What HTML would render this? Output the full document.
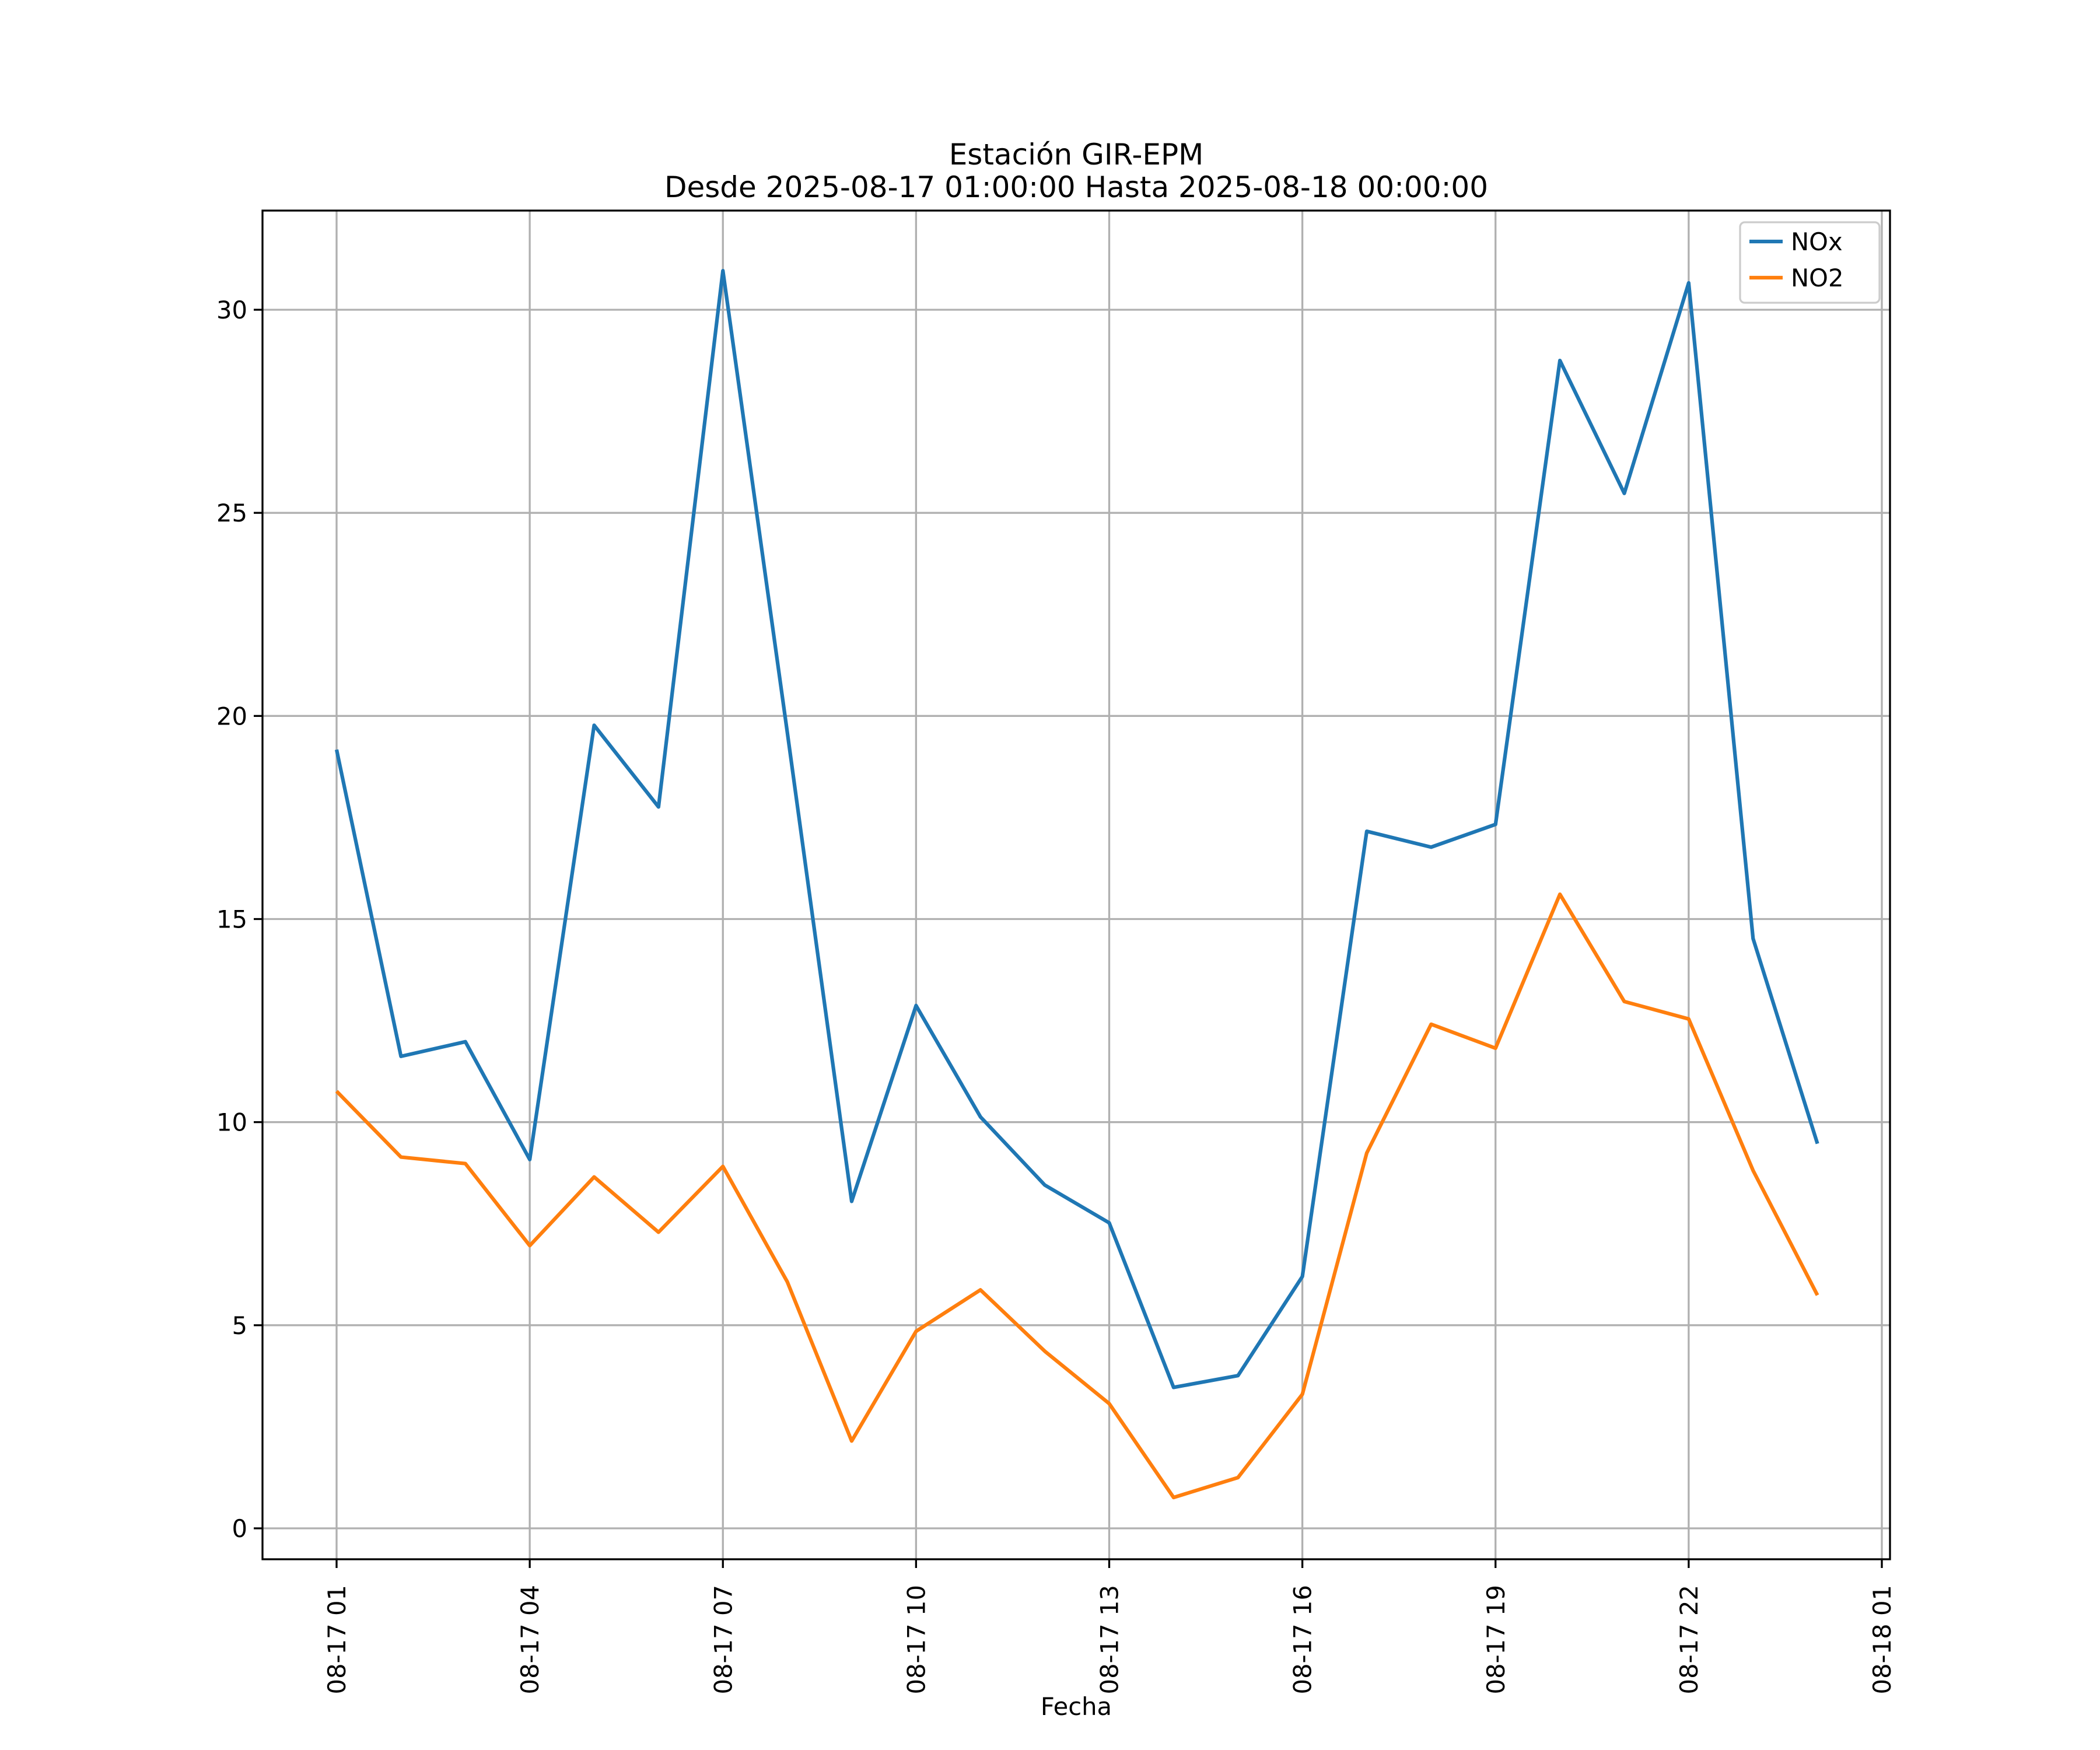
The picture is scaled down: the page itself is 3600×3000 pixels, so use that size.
<!DOCTYPE html>
<html><head><meta charset="utf-8"><style>
html,body{margin:0;padding:0;background:#fff}
svg{display:block;font-family:"DejaVu Sans","Liberation Sans",sans-serif}
</style></head><body>
<svg id="chart" width="3600" height="3000" viewBox="0 0 3600 3000" xmlns="http://www.w3.org/2000/svg">
<rect width="3600" height="3000" fill="#fff"/>
<text x="1845" y="282" font-size="50" text-anchor="middle">Estación GIR-EPM</text>
<text x="1845" y="338" font-size="50" text-anchor="middle">Desde 2025-08-17 01:00:00 Hasta 2025-08-18 00:00:00</text>
<g id="grid"></g><g id="series"></g>
<rect x="450" y="361" width="2790" height="2312" fill="none" stroke="#000" stroke-width="3.3"/>
<g id="ticks"></g>
<text x="1845" y="2940" font-size="41.7" text-anchor="middle">Fecha</text>
<g>
<rect x="2983" y="381" width="239" height="138" rx="8" fill="#fff" fill-opacity="0.8" stroke="#ccc" stroke-width="3.3"/>
<line x1="2999" y1="414" x2="3056" y2="414" stroke="#1f77b4" stroke-width="6.25"/>
<text x="3070" y="429" font-size="41.7">NOx</text>
<line x1="2999" y1="476" x2="3056" y2="476" stroke="#ff7f0e" stroke-width="6.25"/>
<text x="3070" y="491" font-size="41.7">NO2</text>
</g>
</svg>
<script>
const hours=[1,2,3,4,5,6,7,8,9,10,11,12,13,14,15,16,17,18,19,20,21,22,23,24];
const noxValues=[19.17,11.62,11.98,9.08,19.77,17.76,30.96,19.6,8.05,12.87,10.13,8.45,7.52,3.47,3.76,6.2,17.16,16.77,17.33,28.75,25.48,30.66,14.52,9.47];
const no2Values=[10.76,9.14,8.98,6.96,8.65,7.29,8.91,6.07,2.15,4.85,5.87,4.36,3.07,0.76,1.25,3.3,9.24,12.41,11.82,15.61,12.97,12.54,8.81,5.74];
const yTicks=[0,5,10,15,20,25,30];
const xTickHours=[1,4,7,10,13,16,19,22,25];
const xTickLabels=["08-17 01","08-17 04","08-17 07","08-17 10","08-17 13","08-17 16","08-17 19","08-17 22","08-18 01"];
const NS="http://www.w3.org/2000/svg";
const X=h=>577+(h-1)*(3226-577)/24;
const Y=v=>2620-v*(2620-531)/30;
function mk(t,a,p){const e=document.createElementNS(NS,t);for(const k in a)e.setAttribute(k,a[k]);p.appendChild(e);return e;}
const grid=document.getElementById('grid'),ticks=document.getElementById('ticks'),ser=document.getElementById('series');
yTicks.forEach(v=>{
 const g=mk('line',{x1:450,x2:3240,y1:Y(v),y2:Y(v),stroke:'#b0b0b0','stroke-width':3.3},grid);
 
 
 mk('line',{x1:450,x2:435,y1:Y(v),y2:Y(v),stroke:'#000','stroke-width':3.3},ticks);
 const t=mk('text',{x:424,y:Y(v)+15,'font-size':41.7,'text-anchor':'end'},ticks);
 t.textContent=v;
 
 
});
xTickHours.forEach((h,i)=>{
 const x=X(h);
 const g=mk('line',{x1:x,x2:x,y1:361,y2:2673,stroke:'#b0b0b0','stroke-width':3.3},grid);
 
 
 mk('line',{x1:x,x2:x,y1:2673,y2:2688,stroke:'#000','stroke-width':3.3},ticks);
 const t=mk('text',{x:0,y:0,'font-size':41.7,'text-anchor':'end',transform:`translate(${x+15},2717) rotate(-90)`},ticks);
 t.textContent=xTickLabels[i];
 
 
});
function line(vals,color,name){
 const p=mk('polyline',{points:vals.map((v,i)=>X(hours[i])+','+Y(v)).join(' '),fill:'none',stroke:color,'stroke-width':6.25,'stroke-linejoin':'round'},ser);
 
 
}
line(noxValues,'#1f77b4','nox-line');
line(no2Values,'#ff7f0e','no2-line');
</script>
</body></html>
